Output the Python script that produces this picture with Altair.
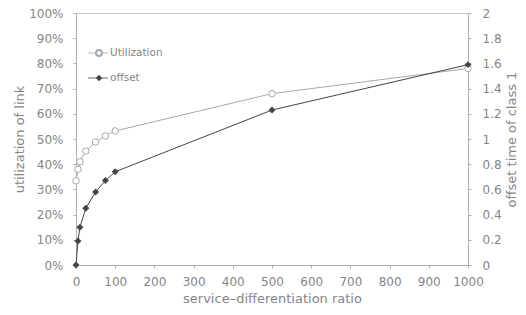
import altair as alt
import pandas as pd

ratio = [0, 5, 10, 25, 50, 75, 100, 500, 1000]
utilization = [0.334, 0.38, 0.41, 0.452, 0.488, 0.512, 0.532, 0.68, 0.78]
offset = [0.0, 0.19, 0.30, 0.45, 0.58, 0.67, 0.74, 1.23, 1.59]

x_ticks = list(range(0, 1001, 100))
left_ticks = [i / 10 for i in range(11)]
right_ticks = [round(i * 0.2, 1) for i in range(11)]

df = pd.DataFrame({"ratio": ratio, "utilization": utilization, "offset": offset})

FONT = "DejaVu Sans"
GRAY_LIGHT = "#a8a8a8"
GRAY_DARK = "#444444"
TXT = "#858585"

x_enc = alt.X(
    "ratio:Q",
    scale=alt.Scale(domain=[0, 1000], nice=False),
    axis=alt.Axis(values=x_ticks, format="d", title="service\u2013differentiation ratio",
                  labelPadding=8, titlePadding=5, labelOverlap=False, labelFlush=False,
                  titleFontWeight="normal"),
)

y_util = alt.Y(
    "utilization:Q",
    scale=alt.Scale(domain=[0, 1], nice=False),
    axis=alt.Axis(values=left_ticks, format=".0%", title="utilization of link",
                  orient="left", labelPadding=10, titlePadding=2, labelOverlap=False,
                  labelFlush=False, titleFontWeight="normal"),
)
y_off = alt.Y(
    "offset:Q",
    scale=alt.Scale(domain=[0, 2], nice=False),
    axis=alt.Axis(values=right_ticks, format="~g", title="offset time of class 1",
                  orient="right", labelPadding=11, titlePadding=17, titleAngle=270,
                  labelOverlap=False, labelFlush=False, titleFontWeight="normal"),
)

base = alt.Chart(df)
util_layer = alt.layer(
    base.mark_line(color=GRAY_LIGHT, strokeWidth=1).encode(x=x_enc, y=y_util),
    base.mark_point(shape="circle", filled=False, color=GRAY_LIGHT, fill="white",
                    fillOpacity=1, size=42, strokeWidth=1).encode(x=x_enc, y=y_util),
)
off_layer = alt.layer(
    base.mark_line(color=GRAY_DARK, strokeWidth=1).encode(x=x_enc, y=y_off),
    base.mark_point(shape="diamond", filled=True, color=GRAY_DARK, opacity=1,
                    size=48).encode(x=x_enc, y=y_off),
)

legend_names = ["Utilization", "offset"]
leg = pd.DataFrame({"name": legend_names})
lc = alt.Chart(leg)
legend_layers = [
    lc.transform_filter(alt.datum.name == "Utilization").mark_rule(color=GRAY_LIGHT, strokeWidth=0.8)
      .encode(x=alt.value(12), x2=alt.value(32), y=alt.value(40)),
    lc.transform_filter(alt.datum.name == "Utilization").mark_point(
        shape="circle", filled=False, color=GRAY_LIGHT, fill="white", fillOpacity=1, size=36)
      .encode(x=alt.value(23), y=alt.value(40)),
    lc.transform_filter(alt.datum.name == "Utilization").mark_text(
        align="left", baseline="middle", font=FONT, fontSize=10.5, color=TXT)
      .encode(x=alt.value(34), y=alt.value(40), text="name:N"),
    lc.transform_filter(alt.datum.name == "offset").mark_rule(color=GRAY_DARK, strokeWidth=0.8)
      .encode(x=alt.value(12), x2=alt.value(32), y=alt.value(65)),
    lc.transform_filter(alt.datum.name == "offset").mark_point(
        shape="diamond", filled=True, color=GRAY_DARK, opacity=1, size=40)
      .encode(x=alt.value(23), y=alt.value(65)),
    lc.transform_filter(alt.datum.name == "offset").mark_text(
        align="left", baseline="middle", font=FONT, fontSize=10.5, color=TXT)
      .encode(x=alt.value(34), y=alt.value(65), text="name:N"),
]

chart = alt.layer(util_layer, off_layer, *legend_layers).resolve_scale(
    y="independent"
).properties(
    width=392, height=252,
    background="white",
    autosize=alt.AutoSizeParams(type="none"),
    padding={"left": 68, "top": 5, "right": 50, "bottom": 42},
).configure_view(
    stroke="#c8c8c8", strokeWidth=1
).configure_axis(
    grid=False, domainColor="#b0b0b0", tickColor="#b0b0b0", tickSize=3,
    labelColor=TXT, titleColor=TXT, labelFont=FONT, titleFont=FONT,
    labelFontSize=12, titleFontSize=13, titleFontWeight="normal",
)

chart.save("out.html", embed_options={"renderer": "svg", "actions": False})
